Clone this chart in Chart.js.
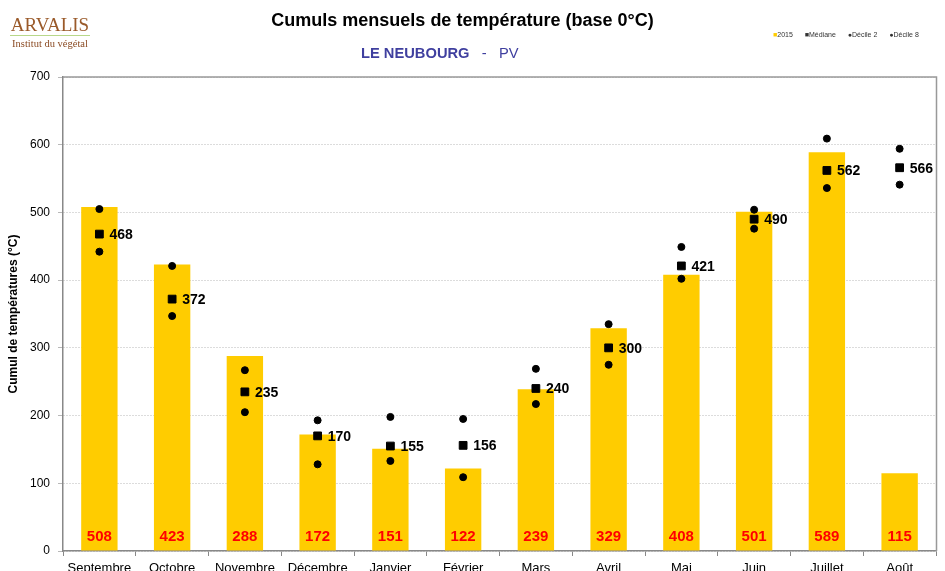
<!DOCTYPE html>
<html>
<head>
<meta charset="utf-8">
<script src="https://cdn.jsdelivr.net/npm/chart.js@4"></script>
<style>
  body { margin: 0; background: #fff; font-family: "Liberation Sans", Arial, sans-serif; }
  #wrap { position: relative; width: 945px; height: 571px; overflow: hidden; }
  #logo { position: absolute; left: 10px; top: 14px; width: 80px; text-align: center; }
  #logo .brand { font-family: "Liberation Serif", serif; font-size: 19px; color: #9a5a2a; line-height: 21px; }
  #logo .sub { font-family: "Liberation Serif", serif; font-size: 10.5px; color: #8a4a22; border-top: 1px solid #b8d88a; padding-top: 2px; white-space: nowrap; }
  #title { position: absolute; left: 0; width: 925px; top: 10px; text-align: center; font-size: 18px; font-weight: bold; color: #000; }
  #subtitle { position: absolute; left: 361px; top: 45px; font-size: 14.7px; color: #3f3f9f; white-space: nowrap; }
  #legend { position: absolute; left: 773px; top: 31px; font-size: 7px; color: #333; white-space: nowrap; }
  #legend span.item { margin-right: 10px; }
  canvas { position: absolute; left: 0; top: 0; }
</style>
</head>
<body>
<div id="wrap">
  <canvas id="tempChart" width="945" height="571"></canvas>
  <div id="logo"><div class="brand">ARVALIS</div><div class="sub">Institut du végétal</div></div>
  <div id="title">Cumuls mensuels de température (base 0°C)</div>
  <div id="subtitle"><b>LE NEUBOURG</b>&nbsp;&nbsp;&nbsp;-&nbsp;&nbsp;&nbsp;PV</div>
  <div id="legend">
    <span class="item"><span style="color:#ffcc00">&#9632;</span>2015</span>
    <span class="item">&#9632;Médiane</span>
    <span class="item">&#9679;Décile 2</span>
    <span class="item">&#9679;Décile 8</span>
  </div>
</div>
<script>
// Monthly data
const months = ['Septembre', 'Octobre', 'Novembre', 'Décembre', 'Janvier', 'Février', 'Mars', 'Avril', 'Mai', 'Juin', 'Juillet', 'Août'];
const cumul2015 = [508, 423, 288, 172, 151, 122, 239, 329, 408, 501, 589, 115];
const mediane = [468, 372, 235, 170, 155, 156, 240, 300, 421, 490, 562, 566];
const decile2 = [442, 347, 205, 128, 133, 109, 217, 275, 402, 476, 536, 541];
const decile8 = [505, 421, 267, 193, 198, 195, 269, 335, 449, 504, 609, 594];
const yTicks = [0, 100, 200, 300, 400, 500, 600, 700];

// labels on bars and medians, plus the frame
const labelPlugin = {
    id: 'labelPlugin',
    afterDatasetsDraw(chart) {
        const ctx = chart.ctx;
        const area = chart.chartArea;
        ctx.save();
        // top and right border
        ctx.strokeStyle = '#999';
        ctx.lineWidth = 1.5;
        ctx.beginPath();
        ctx.moveTo(area.left, area.top);
        ctx.lineTo(area.right + 0.5, area.top);
        ctx.lineTo(area.right + 0.5, area.bottom);
        ctx.stroke();

        ctx.font = 'bold 15px "Liberation Sans", Arial, sans-serif';
        ctx.fillStyle = '#ff0000';
        ctx.textAlign = 'center';
        ctx.textBaseline = 'middle';
        chart.getDatasetMeta(0).data.forEach((bar, i) => {
            ctx.fillText(cumul2015[i], bar.x, area.bottom - 14);
        });

        ctx.font = 'bold 14px "Liberation Sans", Arial, sans-serif';
        ctx.fillStyle = '#000';
        ctx.textAlign = 'left';
        chart.getDatasetMeta(1).data.forEach((pt, i) => {
            ctx.fillText(mediane[i], pt.x + 10, pt.y + 1);
        });
        ctx.restore();
    }
};

const ctx = document.getElementById('tempChart').getContext('2d');
new Chart(ctx, {
    type: 'bar',
    data: {
        labels: months,
        datasets: [{
            label: '2015',
            data: cumul2015,
            backgroundColor: '#ffcc00',
            barPercentage: 0.5,
            categoryPercentage: 1,
            order: 4
        }, {
            type: 'line',
            label: 'Médiane',
            data: mediane,
            showLine: false,
            pointStyle: 'rect',
            pointRadius: 5.5,
            backgroundColor: '#000',
            borderColor: '#000',
            order: 1
        }, {
            type: 'line',
            label: 'Décile 2',
            data: decile2,
            showLine: false,
            pointRadius: 3.5,
            backgroundColor: '#000',
            borderColor: '#000',
            order: 2
        }, {
            type: 'line',
            label: 'Décile 8',
            data: decile8,
            showLine: false,
            pointRadius: 3.5,
            backgroundColor: '#000',
            borderColor: '#000',
            order: 3
        }]
    },
    options: {
        responsive: false,
        animation: false,
        layout: { padding: { top: 77, right: 9, left: 0, bottom: 0 } },
        plugins: {
            legend: { display: false },
            tooltip: { enabled: false }
        },
        scales: {
            x: {
                offset: true,
                grid: { offset: true, drawOnChartArea: false, drawTicks: true, tickLength: 5, color: '#888' },
                border: { color: '#888', width: 1.5 },
                ticks: { color: '#000', font: { size: 13, family: '"Liberation Sans", Arial, sans-serif' }, padding: 5, maxRotation: 0 },
                afterFit(scale) { scale.height = 20; }
            },
            y: {
                min: 0,
                max: 700,
                afterBuildTicks(scale) { scale.ticks = yTicks.map(v => ({ value: v })); },
                grid: { color: '#b8b8b8', tickLength: 5, drawTicks: true },
                border: { color: '#888', width: 1.5, dash: [1, 2] },
                ticks: { color: '#000', font: { size: 12, family: '"Liberation Sans", Arial, sans-serif' }, padding: 8 },
                title: {
                    display: true,
                    text: 'Cumul de températures (°C)',
                    color: '#000',
                    font: { size: 12, weight: 'bold', family: '"Liberation Sans", Arial, sans-serif' },
                    padding: { top: 6, bottom: 0 }
                },
                afterFit(scale) { scale.width = 63; }
            }
        }
    },
    plugins: [labelPlugin]
});
</script>
</body>
</html>
